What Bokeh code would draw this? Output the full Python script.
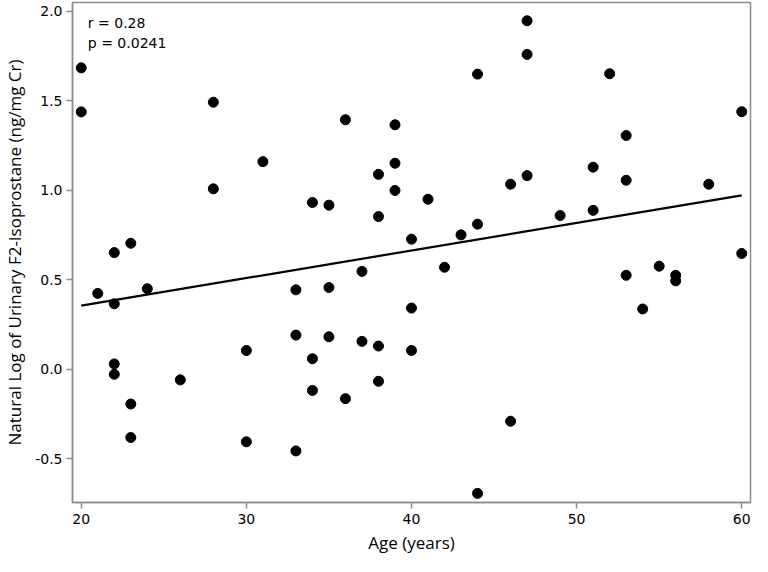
import numpy as np
from bokeh.plotting import figure
from bokeh.models import Label, FixedTicker, Range1d
from bokeh.embed import file_html
from bokeh.resources import INLINE

# Data
age = [20, 20, 21, 22, 22, 22, 22, 23, 23, 23, 24, 26, 28, 28, 30, 30, 31,
       33, 33, 33, 34, 34, 34, 35, 35, 35, 36, 36, 37, 37, 38, 38, 38, 38,
       39, 39, 39, 40, 40, 40, 41, 42, 43, 44, 44, 44, 46, 46, 47, 47, 47,
       49, 51, 51, 52, 53, 53, 53, 54, 55, 56, 56, 58, 60, 60]
ln_f2 = [1.685, 1.439, 0.425, 0.653, 0.367, 0.031, -0.027, 0.705, -0.193, -0.380,
         0.451, -0.058, 1.493, 1.009, 0.106, -0.404, 1.161,
         0.445, 0.192, -0.455, 0.933, 0.060, -0.117, 0.918, 0.458, 0.183,
         1.395, -0.163, 0.548, 0.157, 1.090, 0.854, 0.131, -0.066,
         1.367, 1.152, 1.000, 0.728, 0.343, 0.106, 0.951, 0.571, 0.752,
         1.650, 0.812, -0.692, 1.035, -0.289, 1.948, 1.760, 1.083,
         0.860, 1.130, 0.889, 1.652, 1.307, 1.057, 0.526, 0.338, 0.577,
         0.526, 0.495, 1.035, 1.440, 0.648]
x_ticks = [20, 30, 40, 50, 60]
y_ticks = [-0.5, 0.0, 0.5, 1.0, 1.5, 2.0]
stats_text = ["r = 0.28", "p = 0.0241"]

slope, intercept = np.polyfit(age, ln_f2, 1)
fit_x = [min(age), max(age)]
fit_y = [intercept + slope * v for v in fit_x]

p = figure(width=752, height=556, output_backend="svg", toolbar_location=None,
           x_range=Range1d(19.47, 60.53), y_range=Range1d(-0.743, 2.05),
           min_border_left=66, min_border_right=2, min_border_top=2, min_border_bottom=54)
p.background_fill_color = "white"
p.border_fill_color = "white"
p.outline_line_color = "#8c8c8c"
p.outline_line_width = 1.5
p.grid.visible = False

p.line(fit_x, fit_y, line_color="black", line_width=2.2)
p.scatter(age, ln_f2, size=10, color="black")

for ax in (p.xaxis, p.yaxis):
    ax.axis_line_color = "#8c8c8c"
    ax.axis_line_width = 1.5
    ax.major_tick_line_color = "#8c8c8c"
    ax.major_tick_line_width = 1.5
    ax.major_tick_out = 6
    ax.major_tick_in = 0
    ax.minor_tick_line_color = None
    ax.major_label_text_font = "DejaVu Sans"
    ax.major_label_text_font_size = "14px"
    ax.major_label_text_color = "black"
    ax.axis_label_text_font = "Open Sans"
    ax.axis_label_text_font_size = "17px"
    ax.axis_label_text_font_style = "normal"
    ax.axis_label_text_color = "black"

p.xaxis.ticker = FixedTicker(ticks=x_ticks)
p.yaxis.ticker = FixedTicker(ticks=y_ticks)
p.yaxis.major_label_overrides = {v: f"{v:.1f}" for v in y_ticks}
p.xaxis.axis_label = "Age (years)"
p.yaxis.axis_label = "Natural Log of Urinary F2-Isoprostane (ng/mg Cr)"
p.xaxis.major_label_standoff = 5
p.xaxis.axis_label_standoff = 4
p.yaxis.major_label_standoff = 4
p.yaxis.axis_label_standoff = 6

for i, t in enumerate(stats_text):
    p.add_layout(Label(x=20.4, y=1.98, y_offset=-20 * i, text=t, text_baseline="top",
                       text_font="DejaVu Sans", text_font_size="14px", text_color="black"))

open("out.html", "w").write(file_html(p, INLINE))
